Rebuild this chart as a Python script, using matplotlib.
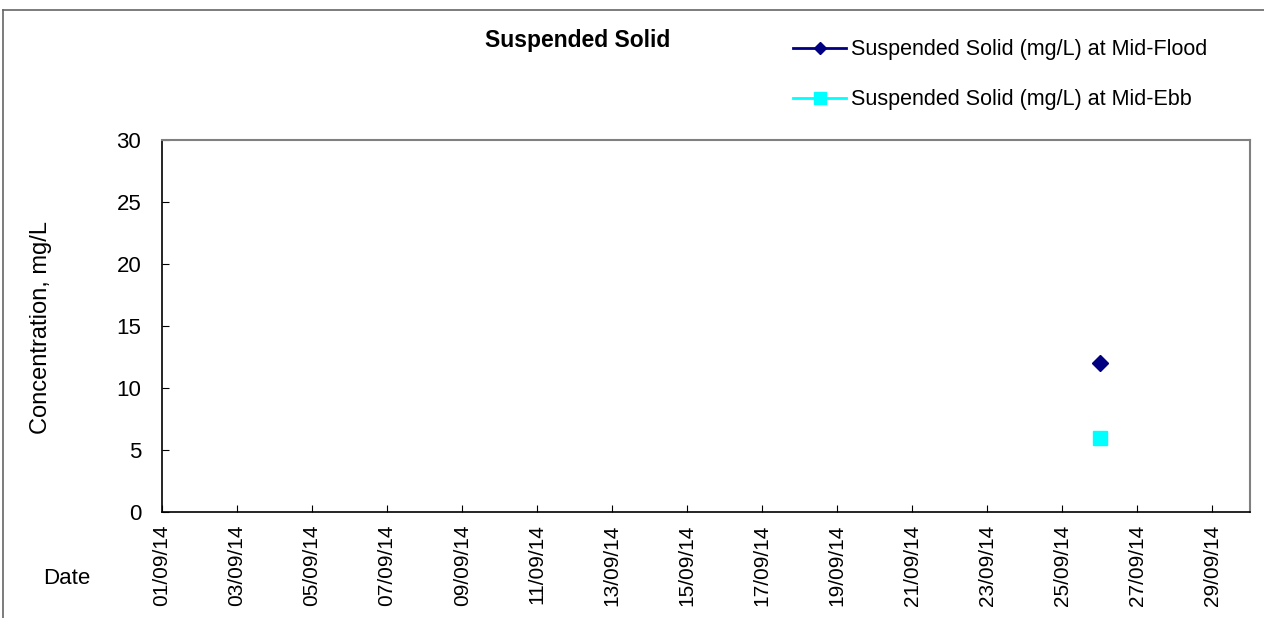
import matplotlib
matplotlib.use("Agg")
import matplotlib.pyplot as plt
import matplotlib.dates as mdates
from matplotlib.lines import Line2D
import datetime as dt

plt.rcParams['font.family'] = ['Liberation Sans', 'DejaVu Sans']

# data
flood_dates = [dt.date(2014, 9, 26)]
flood_ss = [12]
ebb_dates = [dt.date(2014, 9, 26)]
ebb_ss = [6]

tick_dates = [dt.date(2014, 9, d) for d in range(1, 30, 2)]
x_start = dt.date(2014, 9, 1)
x_end = dt.date(2014, 9, 30)

fig = plt.figure(figsize=(12.64, 6.18), dpi=100)
ax = fig.add_axes([162 / 1264, 1 - 512 / 618, (1250 - 162) / 1264, (512 - 140) / 618])

ax.plot(flood_dates, flood_ss, color="#000080", marker="D", markersize=8, linestyle="-",
        linewidth=2, label="Suspended Solid (mg/L) at Mid-Flood")
ax.plot(ebb_dates, ebb_ss, color="#00FFFF", marker="s", markersize=10, linestyle="-",
        linewidth=2, label="Suspended Solid (mg/L) at Mid-Ebb")

ax.set_xlim(x_start, x_end)
ax.set_ylim(0, 30)
ax.set_yticks(range(0, 31, 5))
ax.set_xticks(tick_dates)
ax.xaxis.set_major_formatter(mdates.DateFormatter("%d/%m/%y"))
ax.tick_params(axis="x", direction="in", length=5, rotation=90, labelsize=15, pad=9)
ax.tick_params(axis="y", direction="in", length=5, labelsize=16, pad=15)

for s in ("top", "right"):
    ax.spines[s].set_color("#808080")
    ax.spines[s].set_linewidth(1.5)
for s in ("left", "bottom"):
    ax.spines[s].set_color("black")
    ax.spines[s].set_linewidth(1.2)

fig.text(41 / 1264, 1 - 327 / 618, "Concentration, mg/L", rotation=90, ha="center", va="center", fontsize=17)
fig.text(67 / 1264, 1 - 579 / 618, "Date", ha="center", va="center", fontsize=16)
fig.text(578 / 1264, 1 - 41 / 618, "Suspended Solid", ha="center", va="center", fontsize=16.5, fontweight="bold")

handles = [Line2D([], [], color="#000080", marker="D", markersize=6, linewidth=2),
           Line2D([], [], color="#00FFFF", marker="s", markersize=8, linewidth=2)]
fig.legend(handles, ["Suspended Solid (mg/L) at Mid-Flood", "Suspended Solid (mg/L) at Mid-Ebb"],
           loc="upper left", bbox_to_anchor=(774 / 1264, 1 - 20 / 618), frameon=False,
           fontsize=15.5, labelspacing=1.35, handlelength=2.45, handletextpad=0.23)

# figure border
fig.add_artist(Line2D([3 / 1264, 1], [1 - 10 / 618] * 2, transform=fig.transFigure, color="#666666", linewidth=1.2))
fig.add_artist(Line2D([3 / 1264] * 2, [0, 1 - 10 / 618], transform=fig.transFigure, color="#666666", linewidth=1.2))

fig.savefig("out.png", dpi=100)
